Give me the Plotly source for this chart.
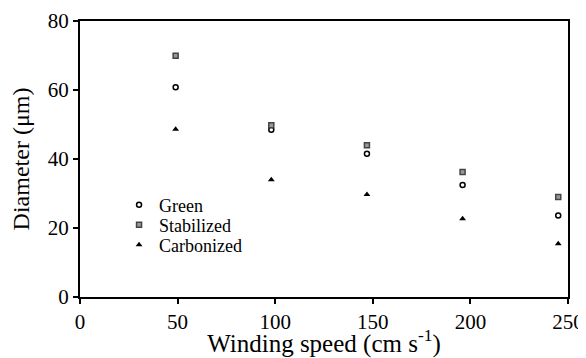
import plotly.graph_objects as go

speed = [49, 98, 147, 196, 245]
green = [60.8, 48.5, 41.5, 32.5, 23.6]
stabilized = [69.9, 49.8, 44.0, 36.2, 29.0]
carbonized = [48.6, 34.0, 29.7, 22.7, 15.4]

font = "Liberation Serif, Times New Roman, serif"

fig = go.Figure()
fig.add_trace(go.Scatter(x=speed, y=green, mode="markers", name="Green", legend="legend",
                         marker=dict(symbol="circle-open", size=5, color="black",
                                     line=dict(width=1.5, color="black"))))
fig.add_trace(go.Scatter(x=speed, y=stabilized, mode="markers", name="Stabilized", legend="legend2",
                         marker=dict(symbol="square", size=5, color="#999999",
                                     line=dict(width=1.5, color="#444444"))))
fig.add_trace(go.Scatter(x=speed, y=carbonized, mode="markers", name="Carbonized", legend="legend3",
                         marker=dict(symbol="triangle-up", size=6, color="black")))

# one legend per entry so the rows can sit as tightly as in the original
leg = dict(x=0.08, xanchor="left", yanchor="middle", bgcolor="rgba(0,0,0,0)",
           font=dict(size=18), itemwidth=30)

# page body has an 8px margin, so the figure is sized/offset for that
fig.update_layout(
    width=578, height=350,
    margin=dict(l=72, r=18, t=13, b=61),
    plot_bgcolor="white", paper_bgcolor="white",
    font=dict(family=font, size=21, color="black"),
    showlegend=True,
    legend=dict(leg, y=0.333),
    legend2=dict(leg, y=0.261),
    legend3=dict(leg, y=0.188),
    xaxis=dict(range=[0, 250], tickvals=[0, 50, 100, 150, 200, 250],
               showgrid=False, zeroline=False, showline=True, linecolor="black",
               linewidth=2, mirror=True, ticks="outside", ticklen=5, tickwidth=2,
               tickcolor="black", automargin=False, ticklabeloverflow="allow",
               title=dict(text="Winding speed (cm s<sup>-1</sup>)", standoff=5,
                          font=dict(size=25))),
    yaxis=dict(range=[0, 80], tickvals=[0, 20, 40, 60, 80],
               showgrid=False, zeroline=False, showline=True, linecolor="black",
               linewidth=2, mirror=True, ticks="outside", ticklen=5, tickwidth=2,
               tickcolor="black", automargin=False, ticklabeloverflow="allow",
               title=dict(text="Diameter (μm)", standoff=12, font=dict(size=24))),
)

fig.write_html("out.html")
